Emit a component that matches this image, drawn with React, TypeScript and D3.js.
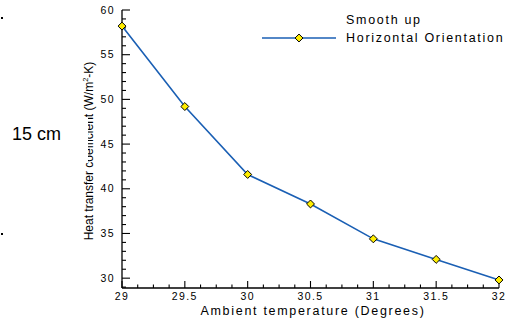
import React, { useRef, useEffect } from 'react';
import * as d3 from 'd3';

const temps = [29, 29.5, 30, 30.5, 31, 31.5, 32];
const heatCoef = [58.2, 49.2, 41.6, 38.3, 34.4, 32.1, 29.8];
const xTicks = [29, 29.5, 30, 30.5, 31, 31.5, 32];
const yTicks = [30, 35, 40, 45, 50, 55, 60];
const legendLines = ['Smooth up', 'Horizontal Orientation'];

const App = () => {
  const svgRef = useRef<SVGSVGElement>(null);
  const width = 508;
  const height = 322;

  useEffect(() => {
    const svg = d3.select(svgRef.current);
    svg.selectAll('*').remove();
    const font = 'Liberation Sans, Arial, sans-serif';

    const x = d3.scaleLinear().domain([29, 32]).range([122, 499]);
    const y = d3.scaleLinear().domain([28.9, 60]).range([288, 10]);

    // x axis, ticks pointing inward
    const xMinor = d3.range(29, 32.0001, 0.125);
    const gx = svg.append('g');
    gx.append('line')
      .attr('x1', x(29)).attr('x2', x(32))
      .attr('y1', y(28.9)).attr('y2', y(28.9))
      .attr('stroke', '#000').attr('stroke-width', 1.3);
    gx.selectAll('.xm')
      .data(xMinor)
      .enter()
      .append('line')
      .attr('x1', d => x(d)).attr('x2', d => x(d))
      .attr('y1', y(28.9))
      .attr('y2', d => y(28.9) - (xTicks.some(t => Math.abs(t - d) < 1e-6) ? 7 : 3.5))
      .attr('stroke', '#000').attr('stroke-width', 1.1);
    gx.selectAll('.xl')
      .data(xTicks)
      .enter()
      .append('text')
      .attr('x', d => x(d))
      .attr('y', 300)
      .attr('text-anchor', 'middle')
      .attr('font-family', font)
      .attr('font-size', 10.5)
      .attr('letter-spacing', 1.4)
      .text(d => d);

    // y axis
    const yMinor = d3.range(29, 60.0001, 1);
    const gy = svg.append('g');
    gy.append('line')
      .attr('x1', x(29)).attr('x2', x(29))
      .attr('y1', y(60)).attr('y2', y(28.9))
      .attr('stroke', '#000').attr('stroke-width', 1.3);
    gy.selectAll('.ym')
      .data(yMinor)
      .enter()
      .append('line')
      .attr('x1', x(29))
      .attr('x2', d => x(29) + (d % 5 === 0 ? 8 : 4))
      .attr('y1', d => y(d)).attr('y2', d => y(d))
      .attr('stroke', '#000').attr('stroke-width', 1.1);
    gy.selectAll('.yl')
      .data(yTicks)
      .enter()
      .append('text')
      .attr('x', 115)
      .attr('y', d => y(d) + 3.5)
      .attr('text-anchor', 'end')
      .attr('font-family', font)
      .attr('font-size', 10.5)
      .attr('letter-spacing', 1.4)
      .text(d => d);

    // axis titles
    svg.append('text')
      .attr('x', 313)
      .attr('y', 315)
      .attr('text-anchor', 'middle')
      .attr('font-family', font)
      .attr('font-size', 12.5)
      .attr('letter-spacing', 1.7)
      .text('Ambient temperature (Degrees)');

    const yt = svg.append('text')
      .attr('transform', 'translate(93,151) rotate(-90)')
      .attr('text-anchor', 'middle')
      .attr('font-family', font)
      .attr('font-size', 12);
    yt.append('tspan').text('Heat transfer coefficient (W/m');
    yt.append('tspan').attr('font-size', 7.5).attr('dy', -5).text('2');
    yt.append('tspan').attr('dy', 5).text('-K)');
    // part of the title is hidden in the original
    svg.append('rect')
      .attr('x', 76).attr('y', 118).attr('width', 12).attr('height', 45)
      .attr('fill', '#fff');

    // series
    const pts = temps.map((t, i) => [t, heatCoef[i]] as [number, number]);
    const line = d3.line<[number, number]>().x(d => x(d[0])).y(d => y(d[1]));
    svg.append('path')
      .datum(pts)
      .attr('fill', 'none')
      .attr('stroke', '#1a5fb4')
      .attr('stroke-width', 1.6)
      .attr('d', line);

    const diamond = d3.symbol().type(d3.symbolDiamond2).size(40);
    svg.selectAll('.pt')
      .data(pts)
      .enter()
      .append('path')
      .attr('transform', d => `translate(${x(d[0])},${y(d[1])})`)
      .attr('d', diamond)
      .attr('fill', '#ffee00')
      .attr('stroke', '#000')
      .attr('stroke-width', 1);

    // legend
    const lg = svg.append('g');
    lg.append('line')
      .attr('x1', 262).attr('x2', 336).attr('y1', 38).attr('y2', 38)
      .attr('stroke', '#1a5fb4').attr('stroke-width', 1.6);
    lg.append('path')
      .attr('transform', 'translate(299,38)')
      .attr('d', diamond)
      .attr('fill', '#ffee00')
      .attr('stroke', '#000')
      .attr('stroke-width', 1);
    lg.selectAll('.lt')
      .data(legendLines)
      .enter()
      .append('text')
      .attr('x', 346)
      .attr('y', (d, i) => 24 + i * 18)
      .attr('font-family', font)
      .attr('font-size', 12.5)
      .attr('letter-spacing', 1.7)
      .text(d => d);

    // side note
    svg.append('text')
      .attr('x', 12).attr('y', 140)
      .attr('font-family', font)
      .attr('font-size', 18)
      .text('15 cm');
    svg.selectAll('.dot')
      .data([17, 233])
      .enter()
      .append('rect')
      .attr('x', 1).attr('y', d => d)
      .attr('width', 2).attr('height', 2)
      .attr('fill', '#000');
  }, []);

  return (
    <svg
      ref={svgRef}
      width={width}
      height={height}
      style={{ position: 'absolute', left: 0, top: 0, background: '#fff' }}
    />
  );
};

export default App;
